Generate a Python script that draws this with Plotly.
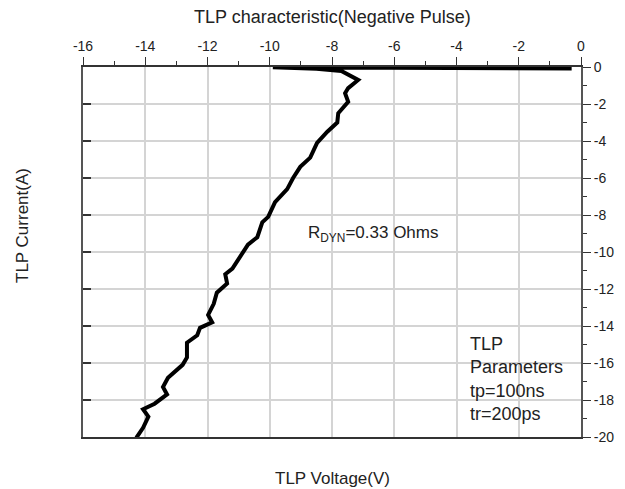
import plotly.graph_objects as go

voltage = [-0.3, -4.0, -9.9, -8.5, -7.7, -7.16, -7.48, -7.58, -7.48, -7.80, -7.83, -8.15, -8.48,
           -8.70, -9.02, -9.25, -9.44, -9.83, -10.05, -10.24, -10.4, -10.7, -11.0, -11.2,
           -11.43, -11.37, -11.7, -11.8, -11.98, -11.85, -12.24, -12.33, -12.66, -12.66,
           -12.8, -13.27, -13.43, -13.3, -13.7, -14.07, -13.9, -14.07, -14.27, -14.35]
current = [-0.08, -0.05, -0.02, -0.1, -0.22, -0.70, -1.14, -1.42, -1.88, -2.5, -3.0, -3.5, -4.1,
           -4.9, -5.4, -6.0, -6.6, -7.3, -8.1, -8.4, -9.2, -9.6, -10.4, -10.9,
           -11.2, -11.7, -12.2, -12.8, -13.4, -13.8, -14.1, -14.5, -14.9, -15.7,
           -16.1, -16.8, -17.3, -17.7, -18.2, -18.5, -18.9, -19.5, -20.0, -20.3]

x_ticks = [-16, -14, -12, -10, -8, -6, -4, -2, 0]
y_ticks = [0, -2, -4, -6, -8, -10, -12, -14, -16, -18, -20]

FONT = "Liberation Sans, Arial, sans-serif"
AX = "#555555"
GRID = "#d4d4d4"
TXT = "#222222"

fig = go.Figure()
fig.add_trace(go.Scatter(x=voltage, y=current, mode="lines",
                         line=dict(color="black", width=4), showlegend=False,
                         cliponaxis=True))
# invisible trace to activate yaxis2 (left inside ticks)
fig.add_trace(go.Scatter(x=[None], y=[None], yaxis="y2", showlegend=False))

fig.update_layout(
    width=625, height=489,
    margin=dict(l=83, r=44, t=67, b=52, autoexpand=False),
    paper_bgcolor="white", plot_bgcolor="white",
    font=dict(family=FONT, size=14, color=TXT),
    xaxis=dict(side="top", range=[-16, 0], tickvals=x_ticks, ticktext=[str(v) for v in x_ticks],
               ticks="outside", ticklen=8, tickcolor="#333333", tickwidth=1,
               minor=dict(dtick=1, ticks="outside", ticklen=4, tickcolor="#333333", showgrid=False),
               showgrid=True, gridcolor=GRID, gridwidth=1.5,
               showline=True, linecolor="#333333", linewidth=2, mirror=True,
               zeroline=False, fixedrange=True, tickfont=dict(size=14)),
    yaxis=dict(side="right", range=[-20, 0], tickvals=y_ticks, ticktext=[str(v) for v in y_ticks],
               ticks="outside", ticklen=8, tickcolor="#333333",
               minor=dict(dtick=1, ticks="outside", ticklen=4, tickcolor="#333333", showgrid=False),
               showgrid=True, gridcolor=GRID, gridwidth=1.5,
               showline=True, linecolor=AX, linewidth=2,
               zeroline=False, fixedrange=True, tickfont=dict(size=14)),
    yaxis2=dict(overlaying="y", side="left", range=[-20, 0], tickvals=y_ticks,
                ticks="inside", ticklen=8, tickcolor="#333333", tickwidth=2,
                showticklabels=False, showgrid=False, zeroline=False,
                showline=True, linecolor=AX, linewidth=2, fixedrange=True),
    annotations=[
        dict(text="TLP characteristic(Negative Pulse)", xref="paper", yref="paper",
             x=0.5, y=1, yshift=50, showarrow=False, font=dict(size=18, color=TXT),
             xanchor="center", yanchor="middle"),
        dict(text="TLP Voltage(V)", xref="paper", yref="paper", x=0.5, y=0, yshift=-41,
             showarrow=False, font=dict(size=17, color=TXT), xanchor="center", yanchor="middle"),
        dict(text="TLP Current(A)", xref="paper", yref="paper", x=0, xshift=-61, y=0.5, yshift=26,
             textangle=-90, showarrow=False, font=dict(size=17, color=TXT),
             xanchor="center", yanchor="middle"),
        dict(text="R<sub>DYN</sub>=0.33 Ohms", xref="x", yref="y", x=-8.85, y=-9.0,
             showarrow=False, font=dict(size=17, color=TXT), xanchor="left", yanchor="middle"),
        dict(text="TLP<br>Parameters<br>tp=100ns<br>tr=200ps", xref="x", yref="y", x=-3.62, y=-14.3,
             showarrow=False, font=dict(size=18, color=TXT), xanchor="left", yanchor="top",
             align="left"),
    ],
)

fig.write_html("out.html", config={"displayModeBar": False},
               post_script="document.body.style.margin='0';document.body.style.overflow='hidden';")
